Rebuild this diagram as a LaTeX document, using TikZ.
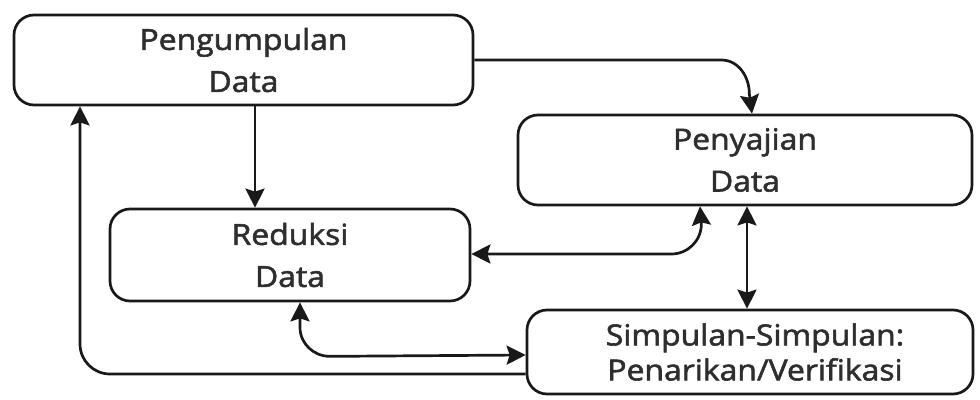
\documentclass[tikz,border=0pt]{standalone}
\usepackage{fontspec}
\setmainfont{Open Sans}[FakeStretch=1.1,FakeBold=2]
\usetikzlibrary{arrows.meta,calc}
\tikzset{
  x=1pt,y=-1pt,
  tip/.tip={Stealth[length=19pt,width=19pt,inset=3pt]},
  box/.style={draw=black!90,line width=2.7pt,rounded corners=20pt,align=center,
    inner sep=0pt,text=black!82,font=\fontsize{29}{42}\selectfont},
  conn/.style={draw=black!90,line width=2.7pt,-tip},
  biconn/.style={draw=black!90,line width=2.7pt,tip-tip}
}
\begin{document}
\begin{tikzpicture}
\useasboundingbox (0,0) rectangle (980,399);
\node[box,minimum width=459pt,minimum height=90pt] (P1) at (243.5,60) {Pengumpulan\\Data};
\node[box,minimum width=454pt,minimum height=90pt] (P2) at (745,160) {Penyajian\\Data};
\node[box,minimum width=360pt,minimum height=92pt] (P3) at (290,255) {Reduksi\\Data};
\node[box,minimum width=446pt,minimum height=84pt,font=\fontsize{29}{35}\selectfont] (P4) at (750,352) {\hspace*{10pt}Simpulan-Simpulan:\\\hspace*{10pt}Penarikan/Verifikasi};
\coordinate (xa) at (752,0);
\coordinate (xb) at (255,0);
\coordinate (xc) at (700,0);
\coordinate (xd) at (747,0);
\coordinate (xe) at (300,0);
\coordinate (xf) at (80,0);
% Pengumpulan -> Penyajian
\draw[conn] (P1.east) -- ++(247,0) to[out=0,in=90] ++(28,34) -- (P2.north -| xa);
% Pengumpulan -> Reduksi
\draw[conn] (P1.south -| xb) -- (P3.north -| xb);
% Reduksi <-> Penyajian
\draw[biconn] ($(P3.east)+(0,-1)$) -- ++(200,0) to[out=0,in=-90] ++(30,-30) -- (P2.south -| xc);
% Penyajian <-> Simpulan
\draw[biconn] (P2.south -| xd) -- (P4.north -| xd);
% Reduksi <-> Simpulan
\draw[biconn] (P3.south -| xe) -- ++(0,25) to[out=-90,in=180] ++(30,29) -- ($(P4.west)+(0,3)$);
% Simpulan -> Pengumpulan
\draw[conn,rounded corners=30pt] ($(P4.west)+(0,22)$) -| (P1.south -| xf);
\end{tikzpicture}
\end{document}
